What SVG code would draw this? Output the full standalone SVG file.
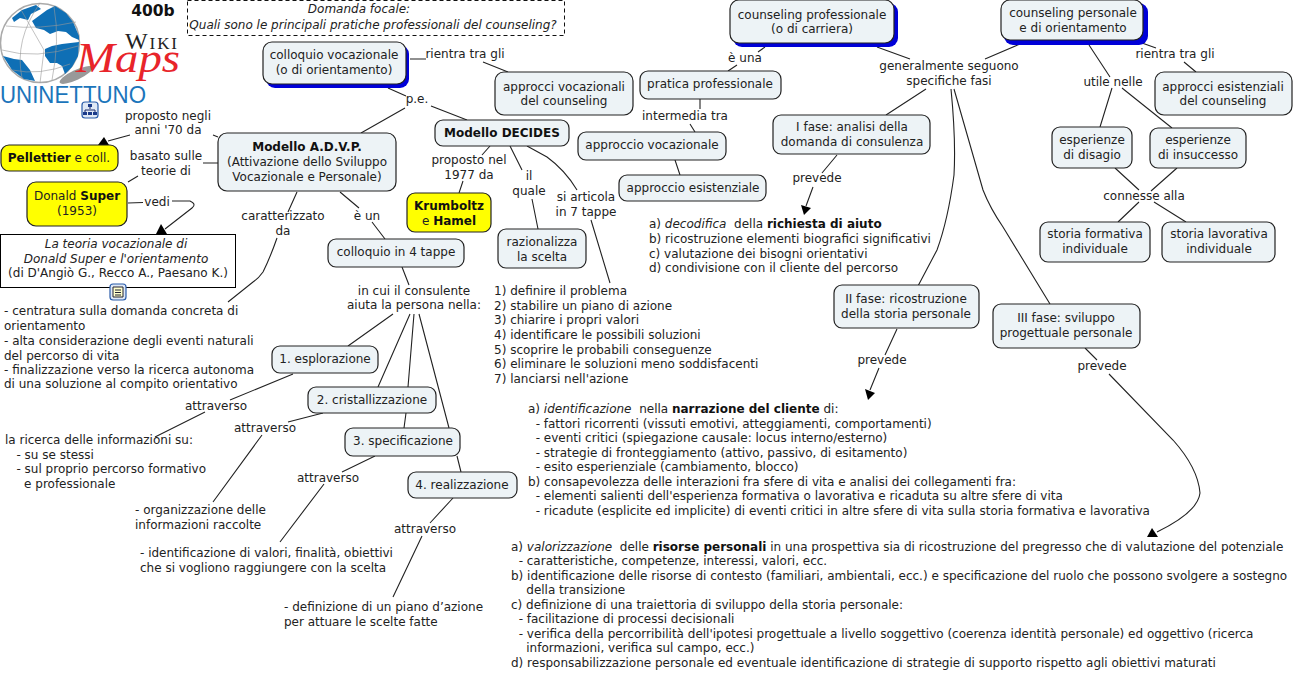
<svg xmlns="http://www.w3.org/2000/svg" width="1297" height="677" viewBox="0 0 1297 677">
<style>
text{font-family:"DejaVu Sans",Verdana,sans-serif;font-size:12px;fill:#222;text-anchor:middle}
.l text{text-anchor:start}
.b{font-weight:bold;fill:#111}
.i{font-style:italic}
.n{fill:#edf3f6;stroke:#222;stroke-width:1.2}
.y{fill:#ffff00;stroke:#222;stroke-width:1.2}
.s{fill:#0000d8;stroke:none}
.w{fill:#fff;stroke:#000;stroke-width:1}
#c path{fill:none;stroke:#222;stroke-width:1.1}
#a path{fill:#000;stroke:none}
.ic{fill:#dfe8f5;stroke:#2a5caa;stroke-width:1.2}
</style>
<rect width="1297" height="677" fill="#fff"/>
<g id="logo">
<ellipse cx="76" cy="75" rx="18" ry="5" transform="rotate(-25 76 75)" fill="#999"/>
<circle cx="40" cy="43" r="39.500" fill="#fff" stroke="#aaa" stroke-width="1.500"/>
<g fill="#0f6fb5">
<path d="M12 18L22 10 36 5 41 9 31 14 28 20 20 18 14 22Z"/>
<path d="M32 21L47 10 55 6 66 13 73 22 79 36 79 40 72 37 66 32 58 31 50 34 44 30 36 28Z"/>
<path d="M45 49L52 46 62 44 79 42 78 56 72 67 65 74 62 66 57 63 50 63 45 56Z"/>
<path d="M3 56L14 59 22 60 30 70 35 81 24 79 12 70Z"/>
</g>
<path d="M20 8L44 50 40 83M6 26Q40 30 76 22M2 50Q36 60 78 46M12 70Q40 76 70 64M40 3Q14 40 22 78M54 7Q60 40 52 80" fill="none" stroke="#999" stroke-width=".6"/>
<text x="125" y="49" style="font-family:'Liberation Serif',serif;font-size:24px;text-anchor:start" textLength="52">W<tspan style="font-family:'Liberation Serif',serif;font-size:17px">IKI</tspan></text>
<text x="76" y="72" style="font-family:'Liberation Serif',serif;font-size:42px;font-style:italic;fill:#e8242a;text-anchor:start" textLength="104" lengthAdjust="spacingAndGlyphs">Maps</text>
<text x="0" y="103" style="font-family:'Liberation Sans',sans-serif;font-size:24px;fill:#1b75bb;text-anchor:start" textLength="146" lengthAdjust="spacingAndGlyphs">UNINETTUNO</text>
<text x="153" y="16" class="b" style="font-size:15.500px">400b</text>
</g>
<g id="c">
<path d="M410 59H426M483 62L508 72M388 88L406 96M405 108L361 133M431 106L467 120"/>
<path d="M218 137L213 135M130 135L108 141M218 163H203M138 176L128 182"/>
<path d="M128 203L143 202.500M172 201H190Q197 204 192 208L165 229"/>
<path d="M297 192L288 212M277 238Q270 258 263 272Q258 279 253 282L228 302M340 192L359 208M372 222L385 239M402 267L409 285M393 314L348 346"/>
<path d="M410 314L378 387M414 314L408 387M406 413L404 428M419 314L449 428M457 456L461 472"/>
<path d="M293 374L230 400M205 412L155 437M323 413L288 422M262 435L213 502M375 456L342 472M324 484L280 542M453 498L430 523M422 536L393 597"/>
<path d="M490 146L482 155M463 181L459 193M510 146L522 170M532 199L538 229M527 146L547 157Q565 170 577 190M591 220L610 283"/>
<path d="M765 47L758 52M737 65L728 71M700 99V109M690 124L695 132M675 160L680 175"/>
<path d="M877 47L910 59M985 59L1020 44M926 89L886 115M837 155L822 173M813 187L806 206M951 89Q956 140 954 175Q948 220 937 250L918 286M954 89L983 190Q990 208 1003 227L1050 304M897 329L885 355M879 368L870 390"/>
<path d="M1085 348L1097 360M1109 374L1173 440Q1198 468 1200 493Q1198 512 1157 532"/>
<path d="M1142 43L1156 48M1184 62L1196 72M1089 45L1110 77M1112 88L1100 127M1122 88L1172 128M1115 168L1139 190M1177 168L1151 191M1139 202L1118 222M1154 202L1186 222"/>
</g>
<g id="a">
<path d="M104 137L98 145 109 145Z"/>
<path d="M161 224L156 234 167 234Z"/>
<path d="M804 215L801 205 811 208Z"/>
<path d="M868 400L865 389 875 393Z"/>
<path d="M1147 537L1152 528 1158 537Z"/>
</g>
<g id="n1"><rect x="187.500" y="0.500" width="377" height="35" fill="#fff" stroke="#111" stroke-dasharray="4 3"/><text x="359" y="13" class="i">Domanda focale:</text><text x="373" y="29" class="i">Quali sono le principali pratiche professionali del counseling?</text></g>
<g id="n2"><rect x="266" y="45" width="143" height="43" rx="9" class="s"/><rect x="263" y="42" width="143" height="42" rx="9" class="n"/><text x="334" y="59">colloquio vocazionale</text><text x="334" y="74">(o di orientamento)</text></g>
<g id="n3"><rect x="495" y="72" width="138" height="43" rx="9" class="n"/><text x="564" y="91">approcci vocazionali</text><text x="564" y="105">del counseling</text></g>
<g id="n4"><rect x="218" y="133" width="178" height="58" rx="9" class="n"/><text x="307" y="151" class="b">Modello A.D.V.P.</text><text x="307" y="166">(Attivazione dello Sviluppo</text><text x="307" y="181">Vocazionale e Personale)</text></g>
<g id="n5"><rect x="435" y="120" width="134" height="26" rx="8" class="n"/><text x="502" y="137" class="b">Modello DECIDES</text></g>
<g id="n6"><rect x="1" y="145" width="117" height="26" rx="8" class="y"/><text x="59" y="162"><tspan class="b">Pellettier</tspan> e coll.</text></g>
<g id="n7"><rect x="27" y="182" width="100" height="44" rx="9" class="y"/><text x="77" y="200">Donald <tspan class="b">Super</tspan></text><text x="77" y="215">(1953)</text></g>
<g id="n8"><rect x="0.500" y="234.500" width="235" height="53" class="w"/><text x="116" y="248" class="i">La teoria vocazionale di</text><text x="116" y="263" class="i">Donald Super e l'orientamento</text><text x="118" y="277">(di D'Angiò G., Recco A., Paesano K.)</text></g>
<g id="n9"><rect x="407" y="193" width="84" height="39" rx="8" class="y"/><text x="449" y="210" class="b">Krumboltz</text><text x="449" y="225">e <tspan class="b">Hamel</tspan></text></g>
<g id="n10"><rect x="498" y="229" width="88" height="39" rx="8" class="n"/><text x="542" y="246">razionalizza</text><text x="542" y="261">la scelta</text></g>
<g id="n11"><rect x="328" y="239" width="136" height="28" rx="8" class="n"/><text x="396" y="256">colloquio in 4 tappe</text></g>
<g id="n12"><rect x="272" y="346" width="106" height="27" rx="8" class="n"/><text x="325" y="363">1. esplorazione</text></g>
<g id="n13"><rect x="308" y="387" width="128" height="26" rx="8" class="n"/><text x="372" y="404">2. cristallizzazione</text></g>
<g id="n14"><rect x="345" y="428" width="115" height="28" rx="8" class="n"/><text x="403" y="445">3. specificazione</text></g>
<g id="n15"><rect x="408" y="472" width="109" height="26" rx="8" class="n"/><text x="462" y="489">4. realizzazione</text></g>
<g id="n16"><rect x="733" y="3" width="165" height="44" rx="9" class="s"/><rect x="730" y="0" width="164" height="43" rx="9" class="n"/><text x="812" y="19">counseling professionale</text><text x="812" y="33">(o di carriera)</text></g>
<g id="n17"><rect x="1004" y="3" width="144" height="42" rx="9" class="s"/><rect x="1001" y="0" width="142" height="40" rx="9" class="n"/><text x="1073" y="17">counseling personale</text><text x="1073" y="32">e di orientamento</text></g>
<g id="n18"><rect x="640" y="71" width="141" height="28" rx="8" class="n"/><text x="710" y="88">pratica professionale</text></g>
<g id="n19"><rect x="578" y="132" width="148" height="28" rx="8" class="n"/><text x="652" y="149">approccio vocazionale</text></g>
<g id="n20"><rect x="619" y="175" width="147" height="26" rx="8" class="n"/><text x="693" y="192">approccio esistenziale</text></g>
<g id="n21"><rect x="773" y="115" width="157" height="39" rx="8" class="n"/><text x="852" y="131">I fase: analisi della</text><text x="852" y="146">domanda di consulenza</text></g>
<g id="n22"><rect x="834" y="285" width="145" height="43" rx="8" class="n"/><text x="906" y="303">II fase: ricostruzione</text><text x="906" y="318">della storia personale</text></g>
<g id="n23"><rect x="993" y="304" width="147" height="44" rx="8" class="n"/><text x="1066" y="322">III fase: sviluppo</text><text x="1066" y="337">progettuale personale</text></g>
<g id="n24"><rect x="1155" y="72" width="137" height="43" rx="9" class="n"/><text x="1223" y="91">approcci esistenziali</text><text x="1223" y="105">del counseling</text></g>
<g id="n25"><rect x="1052" y="127" width="80" height="41" rx="8" class="n"/><text x="1092" y="144">esperienze</text><text x="1092" y="159">di disagio</text></g>
<g id="n26"><rect x="1150" y="128" width="96" height="40" rx="8" class="n"/><text x="1198" y="144">esperienze</text><text x="1198" y="159">di insuccesso</text></g>
<g id="n27"><rect x="1040" y="222" width="110" height="40" rx="8" class="n"/><text x="1095" y="238">storia formativa</text><text x="1095" y="253">individuale</text></g>
<g id="n28"><rect x="1162" y="222" width="113" height="40" rx="8" class="n"/><text x="1219" y="238">storia lavorativa</text><text x="1219" y="253">individuale</text></g>
<g id="i1"><rect x="82" y="102" width="16" height="16" rx="3" class="ic"/><path d="M90 105V109M85 113V110H95V113" fill="none" stroke="#1a2a6a"/><path d="M88 104h4v3h-4zM83 112h4v3h-4zM88 112h4v3h-4zM93 112h4v3h-4z" fill="#1a3a8a"/></g>
<g id="i2"><rect x="110" y="284" width="16" height="16" rx="3" class="ic"/><path d="M113 287H123V297H113Z" fill="#ffffcc" stroke="#223"/><path d="M115 290H121M115 292.500H121M115 295H121" stroke="#223"/></g>
<g id="labels">
<text x="168" y="120">proposto negli</text><text x="168" y="134">anni '70 da</text>
<text x="166" y="160">basato sulle</text><text x="166" y="175">teorie di</text>
<text x="157" y="206">vedi</text>
<text x="465" y="58">rientra tra gli</text>
<text x="417" y="103">p.e.</text>
<text x="283" y="220">caratterizzato</text><text x="283" y="235">da</text>
<text x="367" y="220">è un</text>
<text x="469" y="164">proposto nel</text><text x="469" y="179">1977 da</text>
<text x="529" y="180">il</text><text x="529" y="195">quale</text>
<text x="586" y="201">si articola</text><text x="586" y="216">in 7 tappe</text>
<text x="414" y="295">in cui il consulente</text><text x="414" y="309">aiuta la persona nella:</text>
<text x="216" y="410">attraverso</text>
<text x="265" y="432">attraverso</text>
<text x="328" y="482">attraverso</text>
<text x="425" y="533">attraverso</text>
<text x="745" y="62">è una</text>
<text x="685" y="120">intermedia tra</text>
<text x="949" y="70">generalmente seguono</text><text x="949" y="85">specifiche fasi</text>
<text x="817" y="182">prevede</text>
<text x="882" y="364">prevede</text>
<text x="1102" y="370">prevede</text>
<text x="1175" y="58">rientra tra gli</text>
<text x="1113" y="86">utile nelle</text>
<text x="1144" y="200">connesse alla</text>
</g>
<g id="t1" class="l">
<text x="4" y="315">- centratura sulla domanda concreta di</text><text x="4" y="330">orientamento</text><text x="4" y="345">- alta considerazione degli eventi naturali</text><text x="4" y="360">del percorso di vita</text><text x="4" y="374">- finalizzazione verso la ricerca autonoma</text><text x="4" y="388">di una soluzione al compito orientativo</text>
<text x="5" y="444">la ricerca delle informazioni su:</text><text x="5" y="459" xml:space="preserve">   - su se stessi</text><text x="5" y="473" xml:space="preserve">   - sul proprio percorso formativo</text><text x="5" y="488" xml:space="preserve">     e professionale</text>
<text x="135" y="514">- organizzazione delle</text><text x="135" y="529">informazioni raccolte</text>
<text x="140" y="557">- identificazione di valori, finalità, obiettivi</text><text x="140" y="572">che si vogliono raggiungere con la scelta</text>
<text x="284" y="611">- definizione di un piano d’azione</text><text x="284" y="626">per attuare le scelte fatte</text>
<text x="494" y="295">1) definire il problema</text><text x="494" y="310">2) stabilire un piano di azione</text><text x="494" y="324">3) chiarire i propri valori</text><text x="494" y="339">4) identificare le possibili soluzioni</text><text x="494" y="354">5) scoprire le probabili conseguenze</text><text x="494" y="368">6) eliminare le soluzioni meno soddisfacenti</text><text x="494" y="383">7) lanciarsi nell'azione</text>
<text x="649" y="228" xml:space="preserve">a) <tspan class="i">decodifica</tspan>  della <tspan class="b">richiesta di aiuto</tspan></text><text x="649" y="243">b) ricostruzione elementi biografici significativi</text><text x="649" y="258">c) valutazione dei bisogni orientativi</text><text x="649" y="272">d) condivisione con il cliente del percorso</text>
<text x="528" y="413" xml:space="preserve">a) <tspan class="i">identificazione</tspan>  nella <tspan class="b">narrazione del cliente</tspan> di:</text>
<text x="528" y="428" xml:space="preserve">  - fattori ricorrenti (vissuti emotivi, atteggiamenti, comportamenti)</text>
<text x="528" y="442" xml:space="preserve">  - eventi critici (spiegazione causale: locus interno/esterno)</text>
<text x="528" y="457" xml:space="preserve">  - strategie di fronteggiamento (attivo, passivo, di esitamento)</text>
<text x="528" y="471" xml:space="preserve">  - esito esperienziale (cambiamento, blocco)</text>
<text x="528" y="486">b) consapevolezza delle interazioni fra sfere di vita e analisi dei collegamenti fra:</text>
<text x="528" y="500" xml:space="preserve">  - elementi salienti dell'esperienza formativa o lavorativa e ricaduta su altre sfere di vita</text>
<text x="528" y="515" xml:space="preserve">  - ricadute (esplicite ed implicite) di eventi critici in altre sfere di vita sulla storia formativa e lavorativa</text>
<text x="511" y="551" xml:space="preserve">a) <tspan class="i">valorizzazione</tspan>  delle <tspan class="b">risorse personali</tspan> in una prospettiva sia di ricostruzione del pregresso che di valutazione del potenziale</text>
<text x="511" y="565" xml:space="preserve">  - caratteristiche, competenze, interessi, valori, ecc.</text>
<text x="511" y="580">b) identificazione delle risorse di contesto (familiari, ambientali, ecc.) e specificazione del ruolo che possono svolgere a sostegno</text>
<text x="511" y="594" xml:space="preserve">    della transizione</text>
<text x="511" y="609">c) definizione di una traiettoria di sviluppo della storia personale:</text>
<text x="511" y="623" xml:space="preserve">  - facilitazione di processi decisionali</text>
<text x="511" y="638" xml:space="preserve">  - verifica della percorribilità dell'ipotesi progettuale a livello soggettivo (coerenza identità personale) ed oggettivo (ricerca</text>
<text x="511" y="652" xml:space="preserve">    informazioni, verifica sul campo, ecc.)</text>
<text x="511" y="667">d) responsabilizzazione personale ed eventuale identificazione di strategie di supporto rispetto agli obiettivi maturati</text>
</g>
</svg>
